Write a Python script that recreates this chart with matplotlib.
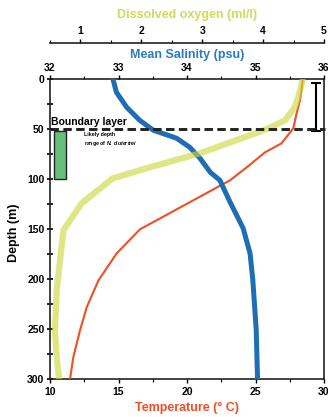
import matplotlib
matplotlib.use("Agg")
import matplotlib.pyplot as plt
from matplotlib.patches import Rectangle
from matplotlib.ticker import MultipleLocator

plt.rcParams['font.family'] = ['Liberation Sans', 'DejaVu Sans']
plt.rcParams['font.weight'] = 'bold'
plt.rcParams['mathtext.fontset'] = 'custom'
plt.rcParams['mathtext.it'] = 'Liberation Sans:italic:bold'
plt.rcParams['mathtext.rm'] = 'Liberation Sans:bold'

# Salinity profile (psu) vs depth (m)
sal_depth = [0, 13, 28, 41, 51, 59, 68, 79, 93, 101, 123, 149, 174, 200, 250, 300]
salinity = [32.92, 32.97, 33.12, 33.31, 33.51, 33.85, 34.04, 34.19, 34.34, 34.48,
            34.63, 34.82, 34.92, 34.96, 35.01, 35.03]

# Temperature profile (deg C) vs depth (m)
temp_depth = [0, 21, 34, 49, 64, 73, 88, 101, 121, 150, 174, 201, 228, 251, 278, 300]
temperature = [28.45, 28.25, 28.0, 27.76, 26.9, 25.7, 24.36, 23.14, 20.46, 16.57,
               14.87, 13.54, 12.68, 12.19, 11.7, 11.46]

# Dissolved oxygen profile (ml/l) vs depth (m)
oxy_depth = [0, 11, 28, 41, 49, 53, 74, 88, 99, 124, 151, 211, 251, 278, 300]
oxygen = [4.65, 4.61, 4.52, 4.36, 4.09, 3.92, 2.96, 2.14, 1.53, 1.02, 0.72, 0.61,
          0.58, 0.61, 0.65]

boundary_depth = 50
dutertrei_range = (52, 100)       # likely depth range of N. dutertrei (m)
mixed_layer = (4, 52)             # vertical bar on the right (m)

temp_ticks = [10, 15, 20, 25, 30]
sal_ticks = [32, 33, 34, 35, 36]
oxy_ticks = [1, 2, 3, 4, 5]
depth_ticks = [0, 50, 100, 150, 200, 250, 300]

BLUE = '#1f6db5'
RED = '#f04e23'
YELLOW = '#cbd83c'
YELLOW_TXT = '#cfdc5a'
GREEN = '#66c07a'

fig = plt.figure(figsize=(3.28, 4.17), dpi=100)
W, H = 328, 417
x0, x1 = 50, 324
ytop, ybot = 79.3, 379.3
ax = fig.add_axes([x0 / W, 1 - ybot / H, (x1 - x0) / W, (ybot - ytop) / H])

# Temperature (main axes)
ax.set_xlim(10, 30)
ax.set_ylim(300, 0)
ax.set_xticks(temp_ticks)
ax.xaxis.set_minor_locator(MultipleLocator(2.5))
ax.set_yticks(depth_ticks)
ax.yaxis.set_minor_locator(MultipleLocator(25))
ax.tick_params(axis='x', which='major', direction='out', length=3, width=1, pad=2.5, labelsize=7.5)
ax.tick_params(axis='x', which='minor', direction='out', length=2, width=0.8)
ax.tick_params(axis='y', which='major', direction='inout', length=5, width=1.2, pad=1.5, labelsize=7.5)
ax.tick_params(axis='y', which='minor', direction='inout', length=4, width=1.2)
ax.tick_params(top=False)
for lab in ax.get_xticklabels() + ax.get_yticklabels():
    lab.set_fontweight('bold')
for sp in ax.spines.values():
    sp.set_linewidth(1.2)
    sp.set_color('#222222')

ax.plot(temperature, temp_depth, color=RED, lw=1.5, zorder=3, solid_capstyle='round')

ax.set_xlabel('Temperature (° C)', color=RED, fontsize=9, fontweight='bold')
ax.xaxis.set_label_coords(0.5, -0.096)
ax.xaxis.label.set_va('center')
ax.set_ylabel('Depth (m)', fontsize=9, fontweight='bold')
ax.yaxis.set_label_coords(-0.13, 0.49)
ax.yaxis.label.set_va('center')

# N. dutertrei depth range box
ax.add_patch(Rectangle((10.31, dutertrei_range[0]), 0.84,
                       dutertrei_range[1] - dutertrei_range[0],
                       facecolor=GREEN, edgecolor='#222222', lw=1.0, zorder=4))
ax.text(10.05, boundary_depth - 2.5, 'Boundary layer', fontsize=7.5, fontweight='bold',
        va='bottom', ha='left', zorder=6)
ax.text(12.48, boundary_depth + 2.5, 'Likely depth\nrange of $\\it{N.\\ dutertrei}$',
        fontsize=3.8, fontweight='bold', va='top', ha='left', linespacing=1.3, zorder=6)

# Salinity (top axis)
ax_s = ax.twiny()
ax_s.set_xlim(32, 36)
ax_s.set_xticks(sal_ticks)
ax_s.xaxis.set_minor_locator(MultipleLocator(0.5))
ax_s.tick_params(axis='x', which='major', direction='out', length=3, width=1, pad=1.5, labelsize=7.5)
ax_s.tick_params(axis='x', which='minor', direction='out', length=2, width=0.8)
for lab in ax_s.get_xticklabels():
    lab.set_fontweight('bold')
for sp in ax_s.spines.values():
    sp.set_visible(False)
ax_s.plot(salinity, sal_depth, color=BLUE, lw=3.6, solid_capstyle='round', zorder=2)
ax_s.set_xlabel('Mean Salinity (psu)', color='#2b7bc0', fontsize=9, fontweight='bold')
ax_s.xaxis.set_label_coords(0.5, 1.081)
ax_s.xaxis.label.set_va('center')

# Dissolved oxygen (second top axis, offset upward)
ax_o = ax.twiny()
ax_o.set_xlim(0.5, 5)
ax_o.set_xticks(oxy_ticks)
ax_o.xaxis.set_minor_locator(MultipleLocator(0.5))
for name, sp in ax_o.spines.items():
    sp.set_visible(name == 'top')
ax_o.spines['top'].set_position(('outward', 26.4))
ax_o.spines['top'].set_linewidth(1.2)
ax_o.spines['top'].set_color('#222222')
ax_o.tick_params(axis='x', which='major', direction='out', length=3, width=1, pad=1.5, labelsize=7.5)
ax_o.tick_params(axis='x', which='minor', direction='out', length=2, width=0.8)
for lab in ax_o.get_xticklabels():
    lab.set_fontweight('bold')
ax_o.plot(oxygen, oxy_depth, color=YELLOW, lw=4.5, alpha=0.62, solid_capstyle='round', zorder=5)
ax_o.set_xlabel('Dissolved oxygen (ml/l)', color=YELLOW_TXT, fontsize=9, fontweight='bold')
ax_o.xaxis.set_label_coords(0.5, 1.214)
ax_o.xaxis.label.set_va('center')

# Boundary layer line and mixed-layer bar drawn above all curves
ax_o.axhline(boundary_depth, color='#222222', lw=2.1, ls=(0, (2.9, 1.5)), zorder=7, clip_on=False,
             xmin=0, xmax=1.005)
ax.errorbar([29.42], [sum(mixed_layer) / 2], yerr=[(mixed_layer[1] - mixed_layer[0]) / 2],
            color='black', lw=1.5, capsize=3.5, capthick=1.5, zorder=8)
ax.set_zorder(0)
ax_s.set_zorder(1)
ax_o.set_zorder(2)
ax_s.patch.set_visible(False)
ax_o.patch.set_visible(False)

fig.savefig('out.png', dpi=100)
